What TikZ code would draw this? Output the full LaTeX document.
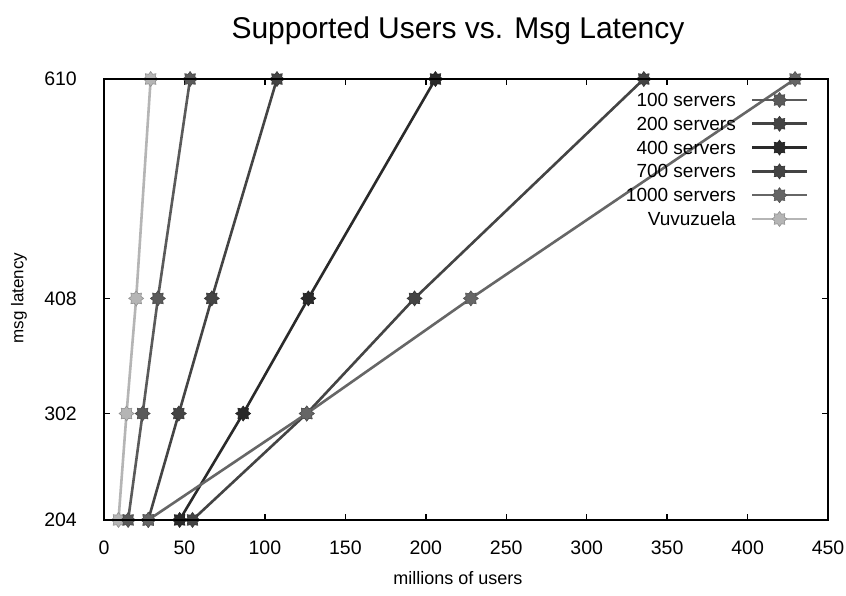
\documentclass[tikz,border=0pt]{standalone}
\usepackage{fontspec}
\setmainfont{Liberation Sans}
\usetikzlibrary{shapes.geometric,calc}

% series colours
\definecolor{cvuvu}{HTML}{B5B5B5}
\definecolor{cs100}{HTML}{5A5A5A}
\definecolor{cs200}{HTML}{444444}
\definecolor{cs400}{HTML}{2A2A2A}
\definecolor{cs700}{HTML}{444444}
\definecolor{cs1000}{HTML}{666666}

\tikzset{
  series/.style={line width=2.6pt, line join=round, color=#1},
  mk/.style={star, star points=8, star point ratio=1.45, minimum size=15pt,
             inner sep=0pt, fill=#1, draw=#1!80!black, line width=0.6pt},
  frame/.style={line width=1.7pt, black},
  tickmark/.style={line width=1.5pt, black},
  ticklabel/.style={font=\fontsize{19.5}{21}\selectfont, inner sep=0pt},
  legendtext/.style={font=\fontsize{19}{21}\selectfont, anchor=east, inner sep=0pt},
}

\begin{document}
\begin{tikzpicture}[x=1pt, y=1pt]
  \useasboundingbox (0,0) rectangle (846,596);
  \fill[white] (0,0) rectangle (846,596);

  % title and axis captions
  \node[font=\fontsize{30}{33}\selectfont] (title) at (458,565) {Supported Users vs. Msg Latency};
  \node[font=\fontsize{18}{20}\selectfont] (xlab) at (458,18) {millions of users};
  \node[font=\fontsize{17}{19}\selectfont, rotate=90] (ylab) at (19,298) {msg latency};

  % data scope: x in millions of users, y in msg latency
  \begin{scope}[shift={(104pt,-145.5pt)}, x=1.609pt, y=1.086pt]
    % ticks (mirrored on opposite sides)
    \foreach \t in {50,100,...,400} {
      \draw[tickmark] (\t,204) -- ++(0,6pt);
      \draw[tickmark] (\t,610) -- ++(0,-6pt);
    }
    \foreach \t in {0,50,...,450}
      \node[ticklabel] (xt\t) at ([yshift=-28pt]\t,204) {\t};
    \foreach \t in {302,408} {
      \draw[tickmark] (0,\t) -- ++(6pt,0);
      \draw[tickmark] (450,\t) -- ++(-6pt,0);
    }
    \foreach \t in {204,302,408,610}
      \node[ticklabel, anchor=east] (yt\t) at ([xshift=-27pt]0,\t) {\t};

    % curves: users (millions) at latency 204, 302, 408, 610
    \foreach \name/\col/\xa/\xb/\xc/\xd in {
        vu/cvuvu/9/14/20/29,
        sa/cs100/15/24/33.5/53.5,
        sb/cs200/27.5/46.5/67/107.5,
        sc/cs400/47/86.5/127/206,
        sd/cs700/55/126/193/335.5,
        se/cs1000/27.5/126/228/429.5} {
      \coordinate (\name1) at (\xa,204);
      \coordinate (\name2) at (\xb,302);
      \coordinate (\name3) at (\xc,408);
      \coordinate (\name4) at (\xd,610);
      \draw[series=\col] (\name1) -- (\name2) -- (\name3) -- (\name4);
      \foreach \i in {1,...,4}
        \node[mk=\col] (\name mk\i) at (\name\i) {};
    }

    % plot frame
    \draw[frame] (0,204) rectangle (450,610);
  \end{scope}

  % legend
  \foreach \lab/\col [count=\i] in {100 servers/cs100, 200 servers/cs200, 400 servers/cs400,
                                    700 servers/cs700, 1000 servers/cs1000, Vuvuzuela/cvuvu} {
    \node[legendtext] (ltxt\i) at (736, 496-23.8*\i+23.8) {\lab};
    \coordinate (lsa\i) at (752, 496-23.8*\i+23.8);
    \coordinate (lsb\i) at (807, 496-23.8*\i+23.8);
    \draw[series=\col] (lsa\i) -- (lsb\i);
    \node[mk=\col] (lmk\i) at ($(lsa\i)!0.5!(lsb\i)$) {};
  }
\end{tikzpicture}
\end{document}
